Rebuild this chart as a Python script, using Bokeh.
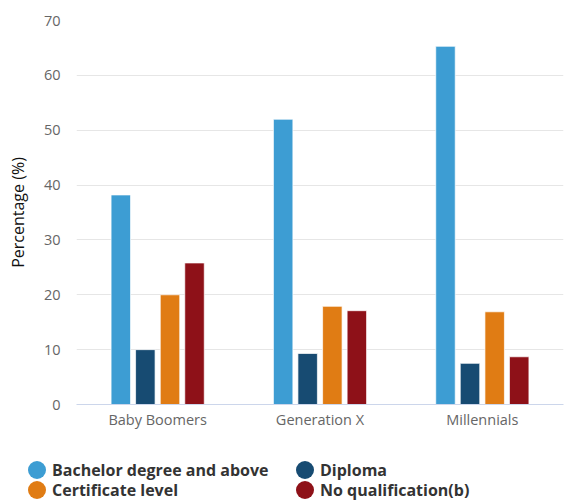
from bokeh.plotting import figure
from bokeh.models import ColumnDataSource, Range1d, FactorRange, Div
from bokeh.layouts import column
from bokeh.transform import dodge
from bokeh.embed import file_html
from bokeh.resources import INLINE

# Highest level of education by generation (%)
generations = ["Baby Boomers", "Generation X", "Millennials"]
bachelor = [38.2, 52.0, 65.3]
diploma = [10.0, 9.3, 7.5]
certificate = [20.0, 17.9, 16.9]
no_qualification = [25.8, 17.1, 8.7]

series_names = ["Bachelor degree and above", "Diploma",
                "Certificate level", "No qualification(b)"]
series_colors = ["#3d9dd3", "#174b72", "#e07c14", "#8e1118"]
y_ticks = [0, 10, 20, 30, 40, 50, 60, 70]

FONT = "Open Sans"

source = ColumnDataSource(dict(
    gen=generations,
    bachelor=bachelor,
    diploma=diploma,
    certificate=certificate,
    noqual=no_qualification,
))

p = figure(
    width=569, height=455,
    x_range=FactorRange(*generations, range_padding=0),
    y_range=Range1d(0, 70),
    output_backend="svg", toolbar_location=None,
    min_border_left=76, min_border_right=6,
    min_border_top=20, min_border_bottom=51,
)
p.outline_line_color = None
p.background_fill_color = "white"
p.border_fill_color = "white"

offsets = [-0.227, -0.076, 0.076, 0.227]
fields = ["bachelor", "diploma", "certificate", "noqual"]
for field, off, color in zip(fields, offsets, series_colors):
    p.vbar(x=dodge("gen", off, range=p.x_range), top=field, width=0.12,
           source=source, fill_color=color, line_color="white",
           line_alpha=0.7, line_width=1)

# grid
p.xgrid.grid_line_color = None
p.ygrid.grid_line_color = "#e6e6e6"
p.ygrid.grid_line_width = 1

# y axis
p.yaxis.ticker = y_ticks
p.yaxis.axis_line_color = None
p.yaxis.major_tick_line_color = None
p.yaxis.minor_tick_line_color = None
p.yaxis.major_tick_out = 0
p.yaxis.major_label_standoff = 16
p.yaxis.major_label_text_font = FONT
p.yaxis.major_label_text_font_size = "14.5px"
p.yaxis.major_label_text_color = "#666666"
p.yaxis.axis_label = "Percentage (%)"
p.yaxis.axis_label_text_font = FONT
p.yaxis.axis_label_text_font_size = "16px"
p.yaxis.axis_label_text_font_style = "normal"
p.yaxis.axis_label_text_color = "#111111"
p.yaxis.axis_label_standoff = 12

# x axis
p.xaxis.axis_line_color = "#ccd6eb"
p.xaxis.axis_line_width = 1
p.xaxis.major_tick_line_color = None
p.xaxis.minor_tick_line_color = None
p.xaxis.major_tick_out = 0
p.xaxis.major_label_standoff = 5
p.xaxis.major_label_text_font = FONT
p.xaxis.major_label_text_font_size = "14.5px"
p.xaxis.major_label_text_color = "#666666"

# legend strip: two columns, two rows, round swatches
col_x = [28, 296]
row_y = [6, 26]
entries = []
for i, (name, color) in enumerate(zip(series_names, series_colors)):
    cx = col_x[i % 2]
    ry = row_y[i // 2]
    entries.append(
        f'<span style="position:absolute;left:{cx}px;top:{ry}px;width:18px;height:18px;'
        f'border-radius:50%;background:{color};"></span>'
        f'<span style="position:absolute;left:{cx + 24}px;top:{ry - 2}px;line-height:22px;'
        f'white-space:nowrap;">{name}</span>'
    )
legend_html = (
    f'<div style="position:relative;width:569px;height:45px;font-family:\'{FONT}\';'
    f'font-size:16px;font-weight:bold;color:#333333;">' + "".join(entries) + '</div>'
)
legend_div = Div(text=legend_html, width=569, height=45, margin=0)

layout = column(p, legend_div, spacing=0)
open("out.html", "w").write(file_html(layout, INLINE))
